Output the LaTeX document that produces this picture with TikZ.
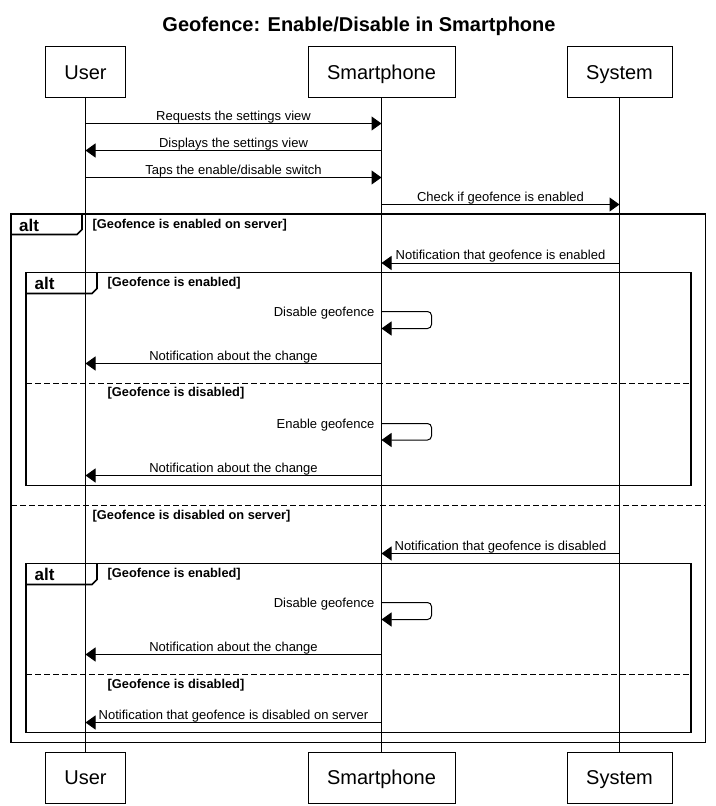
\documentclass[tikz,border=0pt]{standalone}
\usepackage{fontspec}
\setmainfont{Liberation Sans}
\usetikzlibrary{arrows.meta}
\begin{document}
\begin{tikzpicture}[x=1pt,y=-1pt,
  actor/.style={draw,line width=1pt,minimum height=51pt,inner sep=0pt,
    font=\fontsize{20}{24}\selectfont,text height=14pt,text depth=0pt},
  life/.style={line width=1pt},
  msg/.style={line width=1pt,-{Triangle[length=10pt,width=14pt]}},
  lbl/.style={anchor=base,inner sep=0pt,yshift=3.5pt,font=\fontsize{13}{15}\selectfont},
  lble/.style={anchor=base east,inner sep=0pt,font=\fontsize{13}{15}\selectfont},
  frm/.style={line width=1.6pt},
  sepline/.style={line width=1.6pt,dash pattern=on 6pt off 3pt},
  guard/.style={anchor=base west,inner sep=0pt,font=\fontsize{12.8}{15}\selectfont\bfseries},
  alttag/.style={anchor=base west,inner sep=0pt,font=\fontsize{17}{20}\selectfont\bfseries},
  selfmsg/.style={msg,rounded corners=4pt},
]
\useasboundingbox (0,0) rectangle (715,806);

% title
\node[anchor=base,inner sep=0pt,font=\fontsize{20}{24}\selectfont\bfseries] (title) at (359,31)
  {Geofence: Enable/Disable in Smartphone};

% participants (top and bottom)
\node[actor,minimum width=80pt]  (uT) at (85.5,72) {User};
\node[actor,minimum width=147pt] (sT) at (381.5,72) {Smartphone};
\node[actor,minimum width=105pt] (yT) at (619.5,72) {System};
\node[actor,minimum width=80pt]  (uB) at (85.5,777.5) {User};
\node[actor,minimum width=147pt] (sB) at (381.5,777.5) {Smartphone};
\node[actor,minimum width=105pt] (yB) at (619.5,777.5) {System};

% lifelines
\draw[life] (uT.south) -- (uB.north);
\draw[life] (sT.south) -- (sB.north);
\draw[life] (yT.south) -- (yB.north);

% opening messages
\draw[msg] (uT |- 0,123.5) -- node[lbl] (m1) {Requests the settings view} (sT |- 0,123.5);
\draw[msg] (sT |- 0,150.5) -- node[lbl] (m2) {Displays the settings view} (uT |- 0,150.5);
\draw[msg] (uT |- 0,177.5) -- node[lbl] (m3) {Taps the enable/disable switch} (sT |- 0,177.5);
\draw[msg] (sT |- 0,204.5) -- node[lbl] (m4) {Check if geofence is enabled} (yT |- 0,204.5);

% outer alt frame
\draw[frm] (11,214) rectangle (705.5,742.5);
\draw[frm] (11,234.5) -- (77,234.5) -- (82,229.5) -- (82,214);
\node[alttag] (a0) at (19,231) {alt};
\node[guard] (g0) at (92.5,228) {[Geofence is enabled on server]};

\draw[msg] (yT |- 0,263) -- node[lbl] (m5) {Notification that geofence is enabled} (sT |- 0,263);

% inner alt frame (server enabled)
\draw[frm] (26,272.5) rectangle (691,485.5);
\draw[frm] (26,293.5) -- (92,293.5) -- (97,288.5) -- (97,272.5);
\node[alttag] (a1) at (34.5,289.5) {alt};
\node[guard] (g1) at (107.5,286.5) {[Geofence is enabled]};

\draw[selfmsg] (sT |- 0,311.5) -- (431.5,311.5) -- (431.5,328.5) -- (sT |- 0,328.5);
\node[lble] (s1) at (374.5,316.5) {Disable geofence};
\draw[msg] (sT |- 0,363.5) -- node[lbl] (m6) {Notification about the change} (uT |- 0,363.5);

\draw[sepline] (26,383.5) -- (691,383.5);
\node[guard] (g2) at (107.5,396.5) {[Geofence is disabled]};

\draw[selfmsg] (sT |- 0,423.5) -- (431.5,423.5) -- (431.5,440) -- (sT |- 0,440);
\node[lble] (s2) at (374.5,428.5) {Enable geofence};
\draw[msg] (sT |- 0,475.5) -- node[lbl] (m7) {Notification about the change} (uT |- 0,475.5);

% outer alternative: server disabled
\draw[sepline] (11,505.5) -- (705.5,505.5);
\node[guard] (g3) at (92.5,519) {[Geofence is disabled on server]};

\draw[msg] (yT |- 0,553.5) -- node[lbl] (m8) {Notification that geofence is disabled} (sT |- 0,553.5);

% inner alt frame (server disabled)
\draw[frm] (26,563.5) rectangle (691,732.5);
\draw[frm] (26,584.5) -- (92,584.5) -- (97,579.5) -- (97,563.5);
\node[alttag] (a2) at (34.5,580.5) {alt};
\node[guard] (g4) at (107.5,577) {[Geofence is enabled]};

\draw[selfmsg] (sT |- 0,602.5) -- (431.5,602.5) -- (431.5,619.5) -- (sT |- 0,619.5);
\node[lble] (s3) at (374.5,607.5) {Disable geofence};
\draw[msg] (sT |- 0,654.5) -- node[lbl] (m9) {Notification about the change} (uT |- 0,654.5);

\draw[sepline] (26,674.5) -- (691,674.5);
\node[guard] (g5) at (107.5,688) {[Geofence is disabled]};

\draw[msg] (sT |- 0,722.5) -- node[lbl] (m10) {Notification that geofence is disabled on server} (uT |- 0,722.5);
\end{tikzpicture}
\end{document}
